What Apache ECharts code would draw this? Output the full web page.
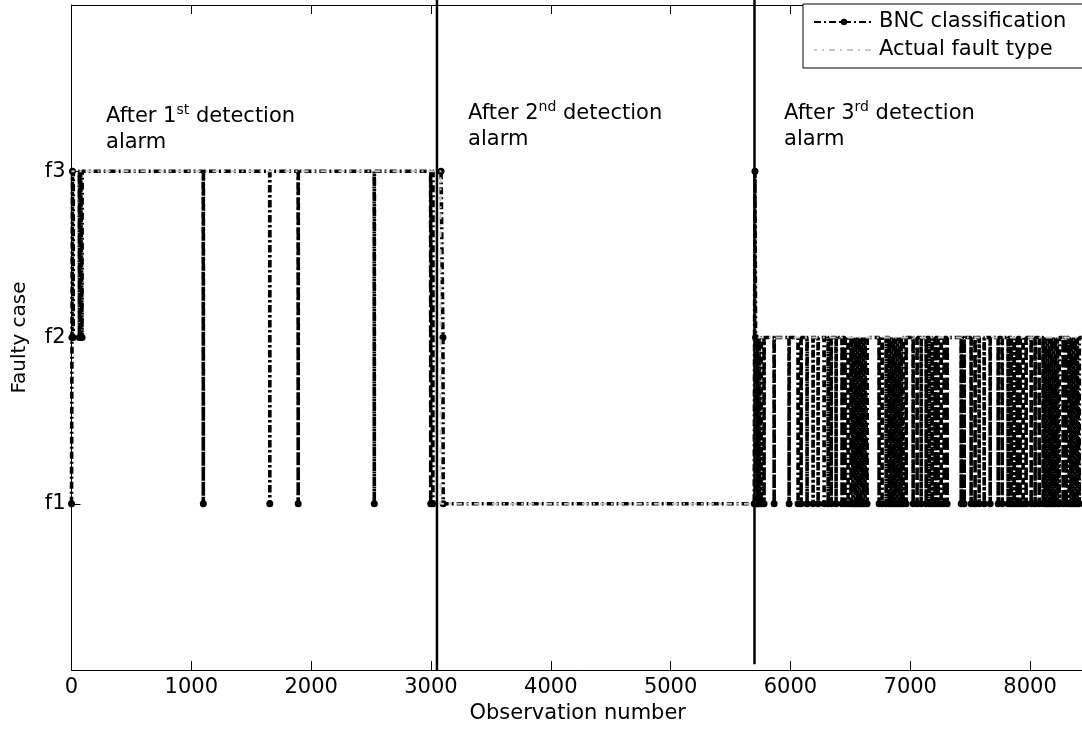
<!DOCTYPE html>
<html><head><meta charset="utf-8">
<script src="https://cdn.jsdelivr.net/npm/echarts@6/dist/echarts.min.js"></script>
<style>html,body{margin:0;padding:0;background:#fff}#c{width:1082px;height:730px}</style>
</head><body><div id="c"></div>
<script>
// ---- data ----
const xMax = 8450;
const xTickStep = 1000;
const yTickLabels = ['', 'f1', 'f2', 'f3', ''];
const alarmObs = [3050, 5700];
const alarmBottom = [0, 0.035];
const alarmTop = 4.03;
const actualObs = [0, 3080, 5700, 8450];
const actualCase = [3, 1, 2, 2];
const bncStart = [[0, 1], [4, 2], [8, 3]];
const bncSpikesF3toF2 = [14, 66, 76, 88];
const bncSpikesF3toF1 = [1100, 1655, 1892, 2527, 2998, 3016];
const bncSwitch = [[3084, 3], [3100, 2], [3102, 1], [5698, 1], [5704, 3], [5709, 2]];
const bncSpikesF2toF1 = [5712, 5722, 5739, 5755, 5780, 5864, 5989, 6064, 6089, 6139, 6189, 6231, 6281, 6315, 6340, 6381, 6431, 6456, 6481, 6506, 6523, 6540, 6557, 6573, 6590, 6607, 6623, 6640, 6740, 6765, 6799, 6824, 6840, 6857, 6874, 6890, 6907, 6924, 6940, 6966, 7024, 7057, 7091, 7133, 7158, 7183, 7208, 7233, 7258, 7283, 7308, 7425, 7450, 7508, 7541, 7575, 7617, 7667, 7734, 7767, 7817, 7842, 7867, 7892, 7917, 7942, 7967, 8009, 8042, 8076, 8109, 8126, 8142, 8159, 8176, 8192, 8209, 8226, 8243, 8276, 8301, 8326, 8343, 8359, 8376, 8393, 8410];
const bncEnd = [[8450, 2]];
const notes = [
  {x: 288, y: 3.41, ord: 'st'},
  {x: 3310, y: 3.428, ord: 'nd'},
  {x: 5947, y: 3.428, ord: 'rd'}
];
const noteNums = ['1', '2', '3'];

// ---- build series data ----
function spikes(list, top, bottom) {
  const out = [];
  list.forEach(function (x) {
    out.push({value: [x - 1, top], symbol: 'none'});
    out.push({value: [x, bottom]});
    out.push({value: [x + 1, top], symbol: 'none'});
  });
  return out;
}
const bncData = [].concat(
  bncStart.map(function (p) { return {value: p}; }),
  spikes(bncSpikesF3toF2, 3, 2),
  spikes(bncSpikesF3toF1, 3, 1),
  bncSwitch.map(function (p) { return {value: p}; }),
  spikes(bncSpikesF2toF1, 2, 1),
  bncEnd.map(function (p) { return {value: p, symbol: 'none'}; })
);
const actualData = actualObs.map(function (x, i) { return [x, actualCase[i]]; });

const FONT = 'DejaVu Sans';

const alarmSeries = alarmObs.map(function (x, i) {
  return {
    type: 'line', name: 'alarm' + i, data: [[x, alarmBottom[i]], [x, alarmTop]],
    symbol: 'none', clip: false, silent: true, z: 4,
    lineStyle: {color: '#000', width: 2.5, type: 'solid'}
  };
});

const noteSeries = {
  type: 'scatter', name: 'notes', symbolSize: 0, silent: true, z: 6, clip: false,
  itemStyle: {color: '#000', opacity: 1},
  data: notes.map(function (n, i) {
    return {
      value: [n.x, n.y],
      label: {
        show: true, position: [0, 0], align: 'left', verticalAlign: 'top', color: '#000', opacity: 1,
        formatter: '{t|After ' + noteNums[i] + '}{s|' + n.ord + '}{t| detection}\n{t|alarm}',
        rich: {
          t: {fontSize: 21, fontFamily: FONT, color: '#000', lineHeight: 26},
          s: {fontSize: 14, fontFamily: FONT, color: '#000', lineHeight: 12, verticalAlign: 'top'}
        }
      }
    };
  })
};

const chart = echarts.init(document.getElementById('c'), null, {renderer: 'canvas'});
chart.setOption({
  animation: false,
  backgroundColor: '#fff',
  grid: {left: 71.5, right: -2, top: 5, bottom: 60, outerBoundsMode: 'none', containLabel: false},
  legend: {
    data: ['BNC classification', {name: 'Actual fault type', itemStyle: {opacity: 0}}],
    orient: 'vertical', left: 803, top: 4, align: 'left',
    padding: [6, 30, 6, 10], itemGap: 4, itemWidth: 60, itemHeight: 8,
    borderColor: '#000', borderWidth: 1, backgroundColor: '#fff',
    selectedMode: false, z: 10,
    textStyle: {fontSize: 21, fontFamily: FONT, color: '#000', lineHeight: 24}
  },
  xAxis: [{
    type: 'value', min: 0, max: xMax, interval: xTickStep,
    name: 'Observation number', nameLocation: 'middle', nameGap: 29,
    nameTextStyle: {fontSize: 21, fontFamily: FONT, color: '#000'},
    axisLine: {show: true, lineStyle: {color: '#000', width: 1}},
    axisTick: {show: true, inside: true, length: 9, lineStyle: {color: '#000'}},
    axisLabel: {
      fontSize: 21, fontFamily: FONT, color: '#000', margin: 7, showMaxLabel: false,
      formatter: function (v) { return v % xTickStep === 0 ? String(v) : ''; }
    },
    splitLine: {show: false}
  }, {
    type: 'value', min: 0, max: xMax, interval: xTickStep, position: 'top',
    axisLine: {show: true, lineStyle: {color: '#000', width: 1}},
    axisTick: {show: true, inside: true, length: 9, lineStyle: {color: '#000'}},
    axisLabel: {show: false}, splitLine: {show: false}
  }],
  yAxis: {
    type: 'value', min: 0, max: 4, interval: 1,
    name: 'Faulty case', nameLocation: 'middle', nameGap: 42, nameRotate: 90,
    nameTextStyle: {fontSize: 20, fontFamily: FONT, color: '#000'},
    axisLine: {show: true, lineStyle: {color: '#000', width: 1}},
    axisTick: {show: true, inside: true, length: 9, lineStyle: {color: '#000'}},
    axisLabel: {
      fontSize: 21, fontFamily: FONT, color: '#000', margin: 6,
      formatter: function (v) { return yTickLabels[v] || ''; }
    },
    splitLine: {show: false}
  },
  series: [{
    type: 'line', name: 'BNC classification', data: bncData,
    symbol: 'circle', symbolSize: 7, showSymbol: true, showAllSymbol: true, z: 2,
    itemStyle: {color: '#000'},
    lineStyle: {color: '#000', width: 3.6, type: [7, 3, 2, 3]}
  }, {
    type: 'line', name: 'Actual fault type', data: actualData, step: 'end',
    symbol: 'none', z: 3,
    itemStyle: {color: '#c8c8c0'},
    lineStyle: {color: '#c8c8c0', width: 2, type: [6, 5, 2, 5], dashOffset: 3}
  }].concat(alarmSeries, [noteSeries])
});
</script>
</body></html>
